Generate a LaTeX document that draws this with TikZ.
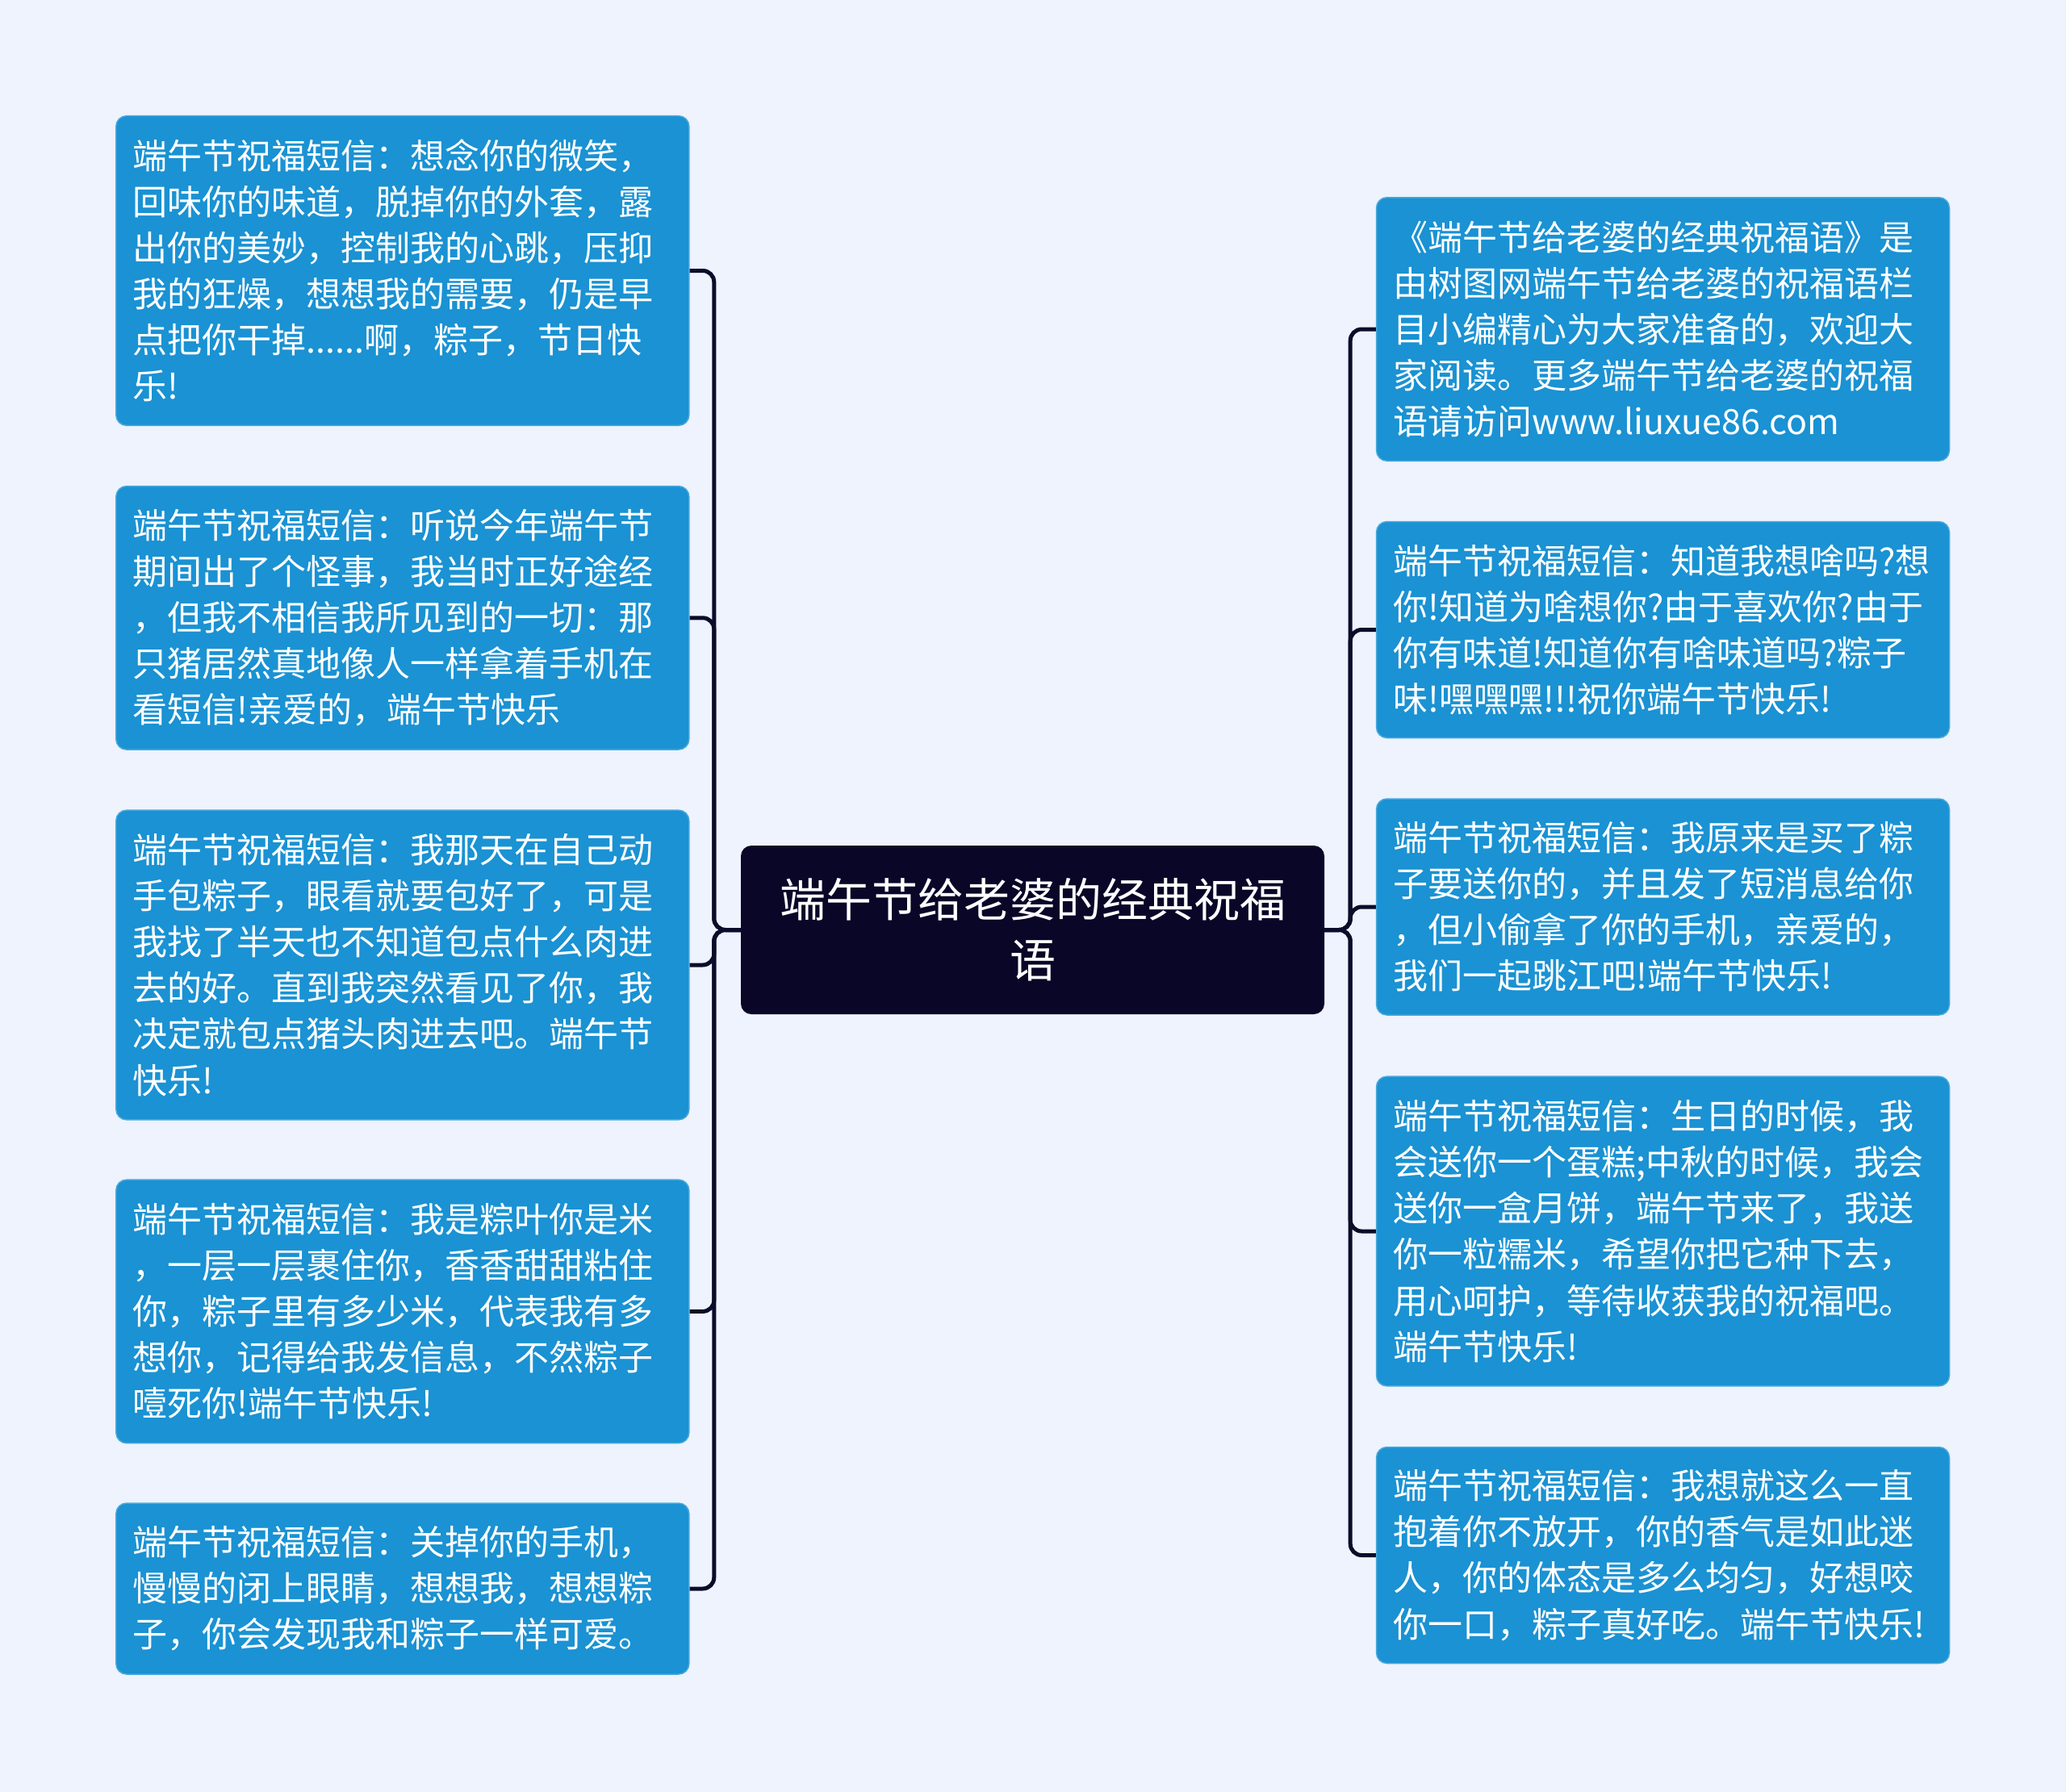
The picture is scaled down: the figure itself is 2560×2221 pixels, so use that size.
\documentclass[tikz,border=0pt]{standalone}
\usepackage{fontspec}
\setmainfont{Noto Sans CJK SC}
\usetikzlibrary{positioning}
\definecolor{bgcol}{HTML}{EEF3FD}
\definecolor{boxcol}{HTML}{1A92D3}
\definecolor{rootcol}{HTML}{0A0628}
\definecolor{linkcol}{HTML}{0C0C2A}

\begin{document}
\begin{tikzpicture}[x=1pt, y=-1pt,
	leafbox/.style={draw=boxcol!80!white, line width=1.5pt, fill=boxcol, rounded corners=13pt, text=white, text width=668pt, inner xsep=21pt, inner ysep=0pt, align=left, font=\fontsize{43}{57.1}\selectfont},
	rootbox/.style={fill=rootcol, rounded corners=13pt, text=white, minimum width=723pt, minimum height=209pt, align=center, font=\fontsize{57}{75}\selectfont},
	link/.style={draw=linkcol, line width=5pt, rounded corners=14pt}]
	% 背景
	\fill[bgcol] (0,0) rectangle (2560,2221);
	\useasboundingbox (0,0) rectangle (2560,2221);
	
	% 中心主题
	\node[rootbox] (root) at (1279.5,1152.5) {端午节给老婆的经典祝福\\语};
	
	% 左侧分支
	\node[leafbox, minimum height=383.7pt] (l1) at (498.8,335.5) {端午节祝福短信：想念你的微笑，\\回味你的味道，脱掉你的外套，露\\出你的美妙，控制我的心跳，压抑\\我的狂燥，想想我的需要，仍是早\\点把你干掉......啊，粽子，节日快\\乐!};
	\node[leafbox, minimum height=326.5pt] (l2) at (498.8,765.8) {端午节祝福短信：听说今年端午节\\期间出了个怪事，我当时正好途经\\，但我不相信我所见到的一切：那\\只猪居然真地像人一样拿着手机在\\看短信!亲爱的，端午节快乐};
	\node[leafbox, minimum height=383.7pt] (l3) at (498.8,1196) {端午节祝福短信：我那天在自己动\\手包粽子，眼看就要包好了，可是\\我找了半天也不知道包点什么肉进\\去的好。直到我突然看见了你，我\\决定就包点猪头肉进去吧。端午节\\快乐!};
	\node[leafbox, minimum height=326.5pt] (l4) at (498.8,1625.4) {端午节祝福短信：我是粽叶你是米\\，一层一层裹住你，香香甜甜粘住\\你，粽子里有多少米，代表我有多\\想你，记得给我发信息，不然粽子\\噎死你!端午节快乐!};
	\node[leafbox, minimum height=212pt] (l5) at (498.8,1969) {端午节祝福短信：关掉你的手机，\\慢慢的闭上眼睛，想想我，想想粽\\子，你会发现我和粽子一样可爱。};
	
	% 右侧分支
	\node[leafbox, minimum height=326.5pt] (r1) at (2060.5,408) {《端午节给老婆的经典祝福语》是\\由树图网端午节给老婆的祝福语栏\\目小编精心为大家准备的，欢迎大\\家阅读。更多端午节给老婆的祝福\\语请访问www.liuxue86.com};
	\node[leafbox, minimum height=268pt] (r2) at (2060.5,780.5) {端午节祝福短信：知道我想啥吗?想\\你!知道为啥想你?由于喜欢你?由于\\你有味道!知道你有啥味道吗?粽子\\味!嘿嘿嘿!!!祝你端午节快乐!};
	\node[leafbox, minimum height=268pt] (r3) at (2060.5,1124) {端午节祝福短信：我原来是买了粽\\子要送你的，并且发了短消息给你\\，但小偷拿了你的手机，亲爱的，\\我们一起跳江吧!端午节快乐!};
	\node[leafbox, minimum height=383.7pt] (r4) at (2060.5,1526) {端午节祝福短信：生日的时候，我\\会送你一个蛋糕;中秋的时候，我会\\送你一盒月饼，端午节来了，我送\\你一粒糯米，希望你把它种下去，\\用心呵护，等待收获我的祝福吧。\\端午节快乐!};
	\node[leafbox, minimum height=268pt] (r5) at (2060.5,1927.5) {端午节祝福短信：我想就这么一直\\抱着你不放开，你的香气是如此迷\\人，你的体态是多么均匀，好想咬\\你一口，粽子真好吃。端午节快乐!};
	
	% 连线
	\foreach \n in {l1,l2,l3,l4,l5}
		\draw[link] (root.west) -- ++(-33,0) |- (\n.east);
	\foreach \n in {r1,r2,r3,r4,r5}
		\draw[link] (root.east) -- ++(32,0) |- (\n.west);
\end{tikzpicture}
\end{document}
